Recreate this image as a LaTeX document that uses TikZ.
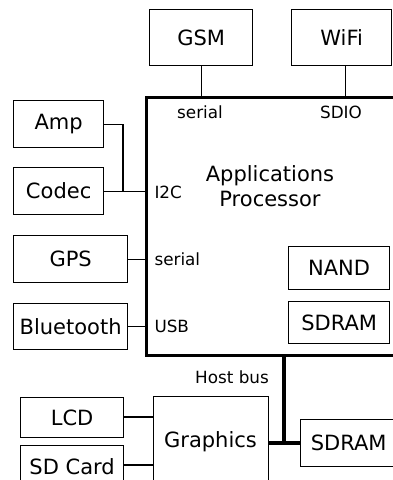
\documentclass[tikz,border=0pt]{standalone}
\usepackage{fontspec}
\setmainfont{DejaVu Sans}
\begin{document}
\begin{tikzpicture}[x=1pt,y=-1pt,
  box/.style={draw,line width=1.3pt,inner sep=0pt},
  thin/.style={line width=1.3pt},
  thick/.style={line width=3.3pt},
  big/.style={font=\fontsize{21}{25}\selectfont},
  small/.style={font=\fontsize{16.8}{20}\selectfont}]
\useasboundingbox (0,0) rectangle (392,480);
% boxes
\newcommand{\bx}[6]{\node[box,big,minimum width=#4pt,minimum height=#5pt,anchor=north west] (#1) at (#2,#3) {#6};}
\bx{gsm}{149}{9}{103}{56}{GSM}
\bx{wifi}{291}{9}{100}{56}{WiFi}
\node[draw,line width=3.3pt,minimum width=251pt,minimum height=258pt,anchor=north west,inner sep=0pt] (ap) at (145,96) {};
\node[big,align=center] (aptext) at (270,186) {Applications\\Processor};
\bx{amp}{13}{100}{90}{47}{Amp}
\bx{codec}{13}{167}{90}{47}{Codec}
\bx{gps}{13}{235}{114}{47}{GPS}
\bx{bt}{13}{303}{114}{46}{Bluetooth}
\bx{nand}{288}{246}{101}{43}{NAND}
\bx{sdram}{288}{301}{101}{42}{SDRAM}
\bx{lcd}{20}{397}{103}{40}{LCD}
\bx{sdcard}{20}{445}{103}{42}{SD Card}
\node[box,big,minimum width=115pt,minimum height=99pt,anchor=north west,inner sep=0pt] (gfx) at (153,396) {};
\node[big] (gfxtext) at (210.5,442) {Graphics};
\bx{sdram2}{300}{419}{96}{47}{SDRAM}
% labels
\node[small] (l1) at (200,112) {serial};
\node[small] (l2) at (341,112) {SDIO};
\node[small,anchor=west] (l3) at (151,192) {I2C};
\node[small,anchor=west] (l4) at (151,259) {serial};
\node[small,anchor=west] (l5) at (151,326) {USB};
\node[small] (l6) at (232,377) {Host bus};
% connectors
\coordinate (wc) at (345.3,0);
\coordinate (ampc) at (123,0);
\coordinate (hb) at (284,0);
\coordinate (lcdy) at (0,417);
\coordinate (sdy) at (0,465);
\coordinate (busy) at (0,443);
\draw[thin] (gsm.south) -- (gsm.south |- ap.north);
\draw[thin] (wifi.south -| wc) -- (wc |- ap.north);
\draw[thin] (amp.east) -| (ampc |- codec.east);
\draw[thin] (codec.east) -- (codec.east -| ap.west);
\draw[thin] (gps.east) -- (gps.east -| ap.west);
\draw[thin] (bt.east) -- (bt.east -| ap.west);
\draw[thin] (lcd.east |- lcdy) -- (gfx.west |- lcdy);
\draw[thin] (sdcard.east |- sdy) -- (gfx.west |- sdy);
\draw[thick] (hb |- ap.south) -- (hb |- busy);
\draw[thick] (gfx.east |- busy) -- (sdram2.west |- busy);
\end{tikzpicture}
\end{document}
